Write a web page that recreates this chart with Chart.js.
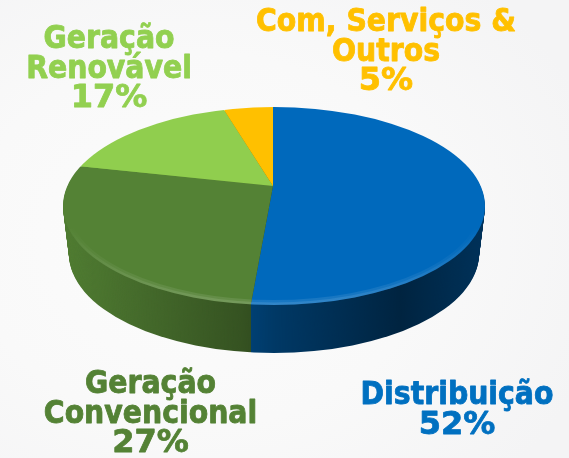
<!DOCTYPE html>
<html><head><meta charset="utf-8">
<style>
html,body{margin:0;padding:0;width:569px;height:458px;overflow:hidden;
background:radial-gradient(ellipse 420px 340px at 200px 240px,#fcfcfc 0%,#f9f9f9 55%,#f4f4f5 100%);}
canvas{display:block}
</style>
<script src="https://cdn.jsdelivr.net/npm/chart.js@4/dist/chart.umd.min.js"></script>
</head><body>
<canvas id="c" width="569" height="458"></canvas>
<script>
const categories = ["Distribuição", "Geração Convencional", "Geração Renovável", "Com, Serviços & Outros"];
const values = [52, 27, 17, 5];
const sliceColors = ["#0069BC", "#548235", "#90CE4E", "#FFC000"];
const textColors = ["#0070C0", "#548235", "#92D050", "#FFC000"];
const labelLines = [["Distribuição"], ["Geração", "Convencional"], ["Geração", "Renovável"], ["Com, Serviços &", "Outros"]];

// Layout of the tilted disc and of the labels (not data)
const disc = {cx:274, cy:206, rx:211, ry:99, apexX:273, apexY:186, tilt:0.5, zoom:1.2, depth:48, baseInset:6};
const labelPlace = [{x:457, y:404}, {x:150.5, y:393}, {x:109, y:48}, {x:386, y:31}];
const lineStep = 29.5;
const labelFont = 'bold 31.5px "DejaVu Sans Condensed", "DejaVu Sans", sans-serif';
const percentFont = 'bold 32px "DejaVu Sans", sans-serif';

function drawArcs(ctx, arcs, shift) {
  arcs.forEach(arc => {
    ctx.save();
    ctx.translate(disc.apexX, disc.apexY + shift);
    ctx.scale(disc.zoom, disc.zoom * disc.tilt);
    ctx.translate(-arc.x, -arc.y);
    arc.draw(ctx);
    ctx.restore();
  });
}
function ellipsePath(ctx, shift, inset) {
  ctx.beginPath();
  ctx.ellipse(disc.cx, disc.cy + shift, disc.rx - inset, disc.ry, 0, 0, Math.PI * 2);
}

const disc3d = {
  id: 'disc3d',
  beforeDatasetsDraw(chart) {
    const ctx = chart.ctx;
    const arcs = chart.getDatasetMeta(0).data;
    for (let i = disc.depth; i > 0; i--) {
      ctx.save();
      ellipsePath(ctx, i, disc.baseInset * i / disc.depth);
      ctx.clip();
      drawArcs(ctx, arcs, i);
      ctx.restore();
    }
    ctx.save();
    ctx.globalCompositeOperation = 'source-atop';
    const g = ctx.createLinearGradient(disc.cx - disc.rx, 0, disc.cx + disc.rx, 0);
    g.addColorStop(0, 'rgba(0,0,0,0.04)');
    g.addColorStop(0.42, 'rgba(0,0,0,0.36)');
    g.addColorStop(0.5, 'rgba(0,0,0,0.46)');
    g.addColorStop(0.8, 'rgba(0,0,0,0.66)');
    g.addColorStop(1, 'rgba(0,0,0,0.52)');
    ctx.fillStyle = g;
    ctx.fillRect(0, 0, chart.width, chart.height);
    ctx.restore();
    // top face, with a soft lit rim along the front edge only
    ctx.save();
    ellipsePath(ctx, 0, 0);
    ctx.clip();
    drawArcs(ctx, arcs, 0);
    const rim = ctx.createLinearGradient(0, disc.cy + 20, 0, disc.cy + disc.ry);
    rim.addColorStop(0, 'rgba(255,255,255,0)');
    rim.addColorStop(1, 'rgba(255,255,255,0.10)');
    ctx.strokeStyle = rim;
    ellipsePath(ctx, 0, 0);
    ctx.lineWidth = 10;
    ctx.stroke();
    ellipsePath(ctx, 0, 0);
    ctx.lineWidth = 5;
    ctx.stroke();
    ctx.restore();
    return false;
  },
  afterDraw(chart) {
    const ctx = chart.ctx;
    ctx.save();
    ctx.textAlign = 'center';
    ctx.textBaseline = 'alphabetic';
    ctx.lineJoin = 'round';
    ctx.lineWidth = 0.8;
    categories.forEach((name, idx) => {
      const lines = labelLines[idx].concat([values[idx] + '%']);
      ctx.fillStyle = textColors[idx];
      ctx.strokeStyle = textColors[idx];
      lines.forEach((t, n) => {
        const y = labelPlace[idx].y + n * lineStep;
        ctx.font = n === lines.length - 1 ? percentFont : labelFont;
        ctx.fillText(t, labelPlace[idx].x, y);
        ctx.strokeText(t, labelPlace[idx].x, y);
      });
    });
    ctx.restore();
  }
};

new Chart(document.getElementById('c'), {
  type: 'pie',
  data: { labels: categories, datasets: [{ data: values, backgroundColor: sliceColors, borderWidth: 0 }] },
  options: {
    responsive: false,
    animation: false,
    layout: { padding: 0 },
    plugins: { legend: { display: false }, tooltip: { enabled: false } }
  },
  plugins: [disc3d]
});
</script>
</body></html>
